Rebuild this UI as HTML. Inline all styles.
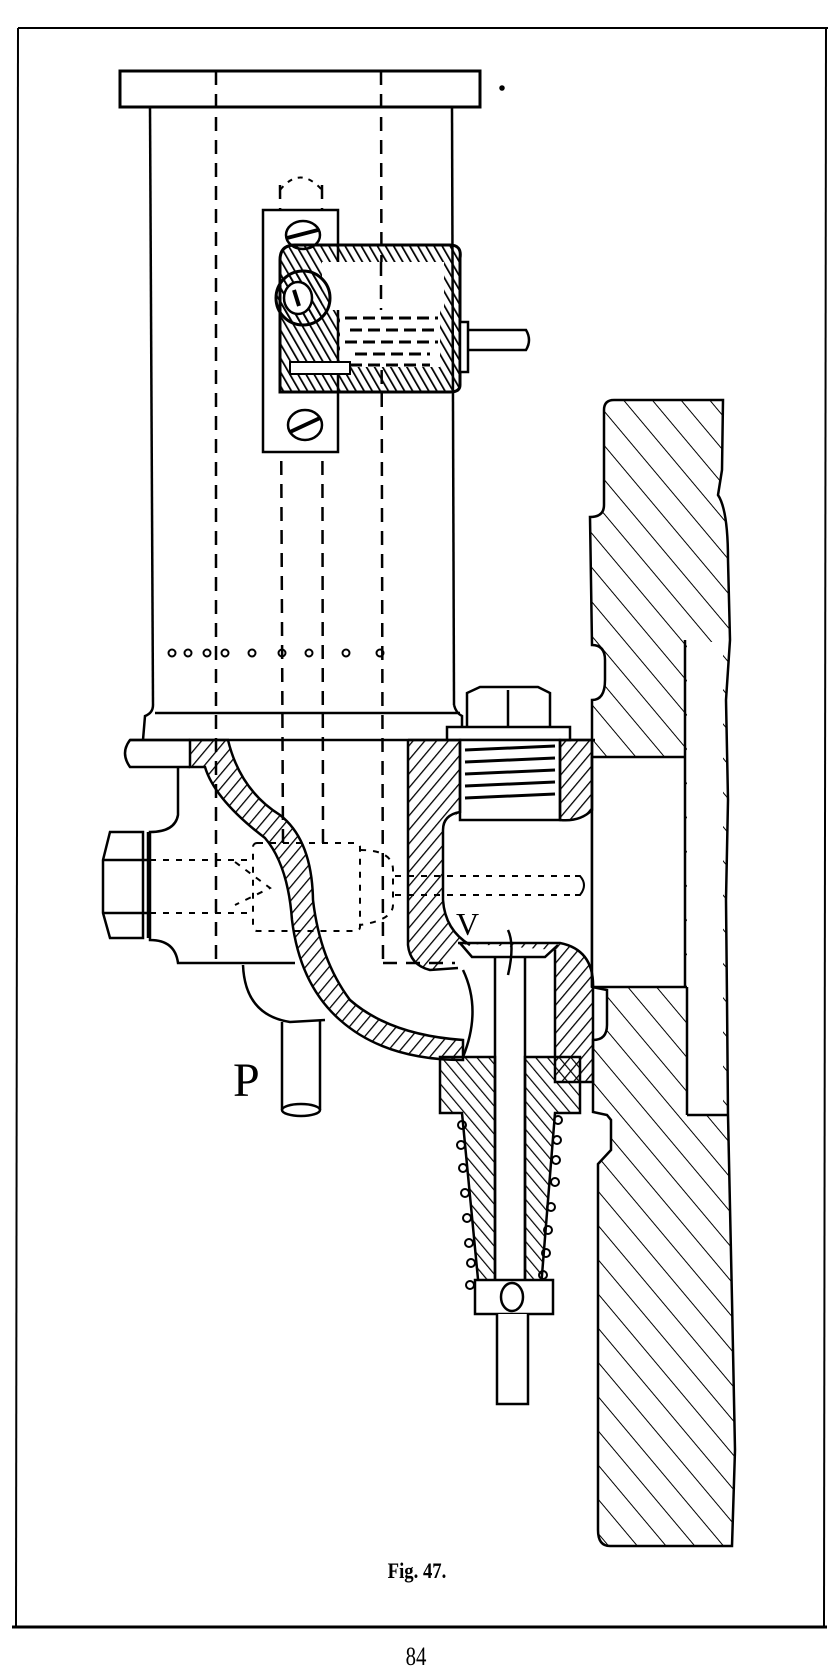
<!DOCTYPE html>
<html><head><meta charset="utf-8"><style>
html,body{margin:0;padding:0;background:#fff}
svg{display:block}
</style></head><body>
<svg width="840" height="1677" viewBox="0 0 840 1677" xmlns="http://www.w3.org/2000/svg">
<defs>
<pattern id="hw" width="22" height="22" patternUnits="userSpaceOnUse" patternTransform="rotate(-40)"><line x1="0" y1="0" x2="0" y2="22" stroke="#000" stroke-width="2"/></pattern>
<pattern id="hb" width="9" height="9" patternUnits="userSpaceOnUse" patternTransform="rotate(40)"><line x1="0" y1="0" x2="0" y2="9" stroke="#000" stroke-width="2.6"/></pattern>
<pattern id="hc" width="9" height="9" patternUnits="userSpaceOnUse" patternTransform="rotate(-40)"><line x1="0" y1="0" x2="0" y2="9" stroke="#000" stroke-width="2.4"/></pattern>
<pattern id="hs" width="7" height="7" patternUnits="userSpaceOnUse" patternTransform="rotate(-30)"><line x1="0" y1="0" x2="0" y2="7" stroke="#000" stroke-width="3.5"/></pattern>
</defs>
<g fill="none" stroke="#000" stroke-width="2.5">
<line x1="18" y1="28" x2="828" y2="28" stroke-width="2"/>
<line x1="18" y1="28" x2="16" y2="1627" stroke-width="2"/>
<line x1="826" y1="28" x2="824" y2="1627" stroke-width="2"/>
<line x1="12" y1="1627" x2="827" y2="1627" stroke-width="3"/>

<path d="M604,410 Q604,400 614,400 L723,400 L722,470 L718,495 Q728,510 728,560 L730,640 L726,700 L728,800 L726,900 L727,1000 L728,1115 L732,1300 L735,1450 L732,1546 L610,1546 Q598,1546 598,1530 L598,1164 L611,1150 L611,1120 L607,1115 L593,1112 L593,1040 Q607,1040 607,1025 L607,990 L592,987 L592,757 L592,700 Q605,700 605,680 L605,660 Q605,645 592,645 L590,517 Q604,517 604,505 Z" fill="url(#hw)"/>
<rect x="593" y="758" width="91" height="228" fill="#fff" stroke="none"/>
<rect x="687" y="642" width="36" height="472" fill="#fff" stroke="none"/>
<line x1="685" y1="640" x2="685" y2="987"/>
<line x1="592" y1="757" x2="685" y2="757"/>
<line x1="592" y1="987" x2="687" y2="987"/>
<line x1="687" y1="987" x2="687" y2="1115"/>
<line x1="687" y1="1115" x2="728" y2="1115"/>
<line x1="592" y1="757" x2="592" y2="987"/>

<rect x="120" y="71" width="360" height="36" stroke-width="3"/>
<line x1="150" y1="107" x2="153" y2="705"/>
<line x1="452" y1="107" x2="454" y2="705"/>
<path d="M153,705 Q153,713 145,716 L143,740"/>
<path d="M454,705 Q456,713 462,716 L462,740"/>
<line x1="155" y1="713" x2="460" y2="713"/>
<path d="M190,740 L130,740 Q120,753 130,767 L190,767"/>
<line x1="130" y1="740" x2="595" y2="740"/>

<g stroke-dasharray="14,9" stroke-width="2.5">
<line x1="216" y1="71" x2="216" y2="963"/>
<line x1="381" y1="71" x2="383" y2="963"/>
<line x1="280" y1="185" x2="283" y2="843"/>
<line x1="322" y1="185" x2="323" y2="843"/>
<line x1="383" y1="963" x2="455" y2="963"/>
</g>
<path d="M280,190 Q300,165 322,190" stroke-dasharray="5,6" stroke-width="2"/>
<g stroke-dasharray="6,7" stroke-width="2">
<rect x="253" y="843" width="107" height="88" rx="4"/>
<line x1="150" y1="860" x2="253" y2="860"/>
<line x1="150" y1="913" x2="253" y2="913"/>
<path d="M235,862 L270,888 L235,905"/>
<path d="M360,850 Q393,850 393,870 L393,905 Q393,920 360,925"/>
<line x1="395" y1="876" x2="575" y2="876"/>
<line x1="395" y1="895" x2="575" y2="895"/>
</g>
<path d="M575,876 L580,876 Q588,885 580,895 L575,895" stroke-width="2"/>

<g stroke-width="2">
<circle cx="172" cy="653" r="3.5"/><circle cx="188" cy="653" r="3.5"/><circle cx="207" cy="653" r="3.5"/><circle cx="225" cy="653" r="3.5"/><circle cx="252" cy="653" r="3.5"/><circle cx="282" cy="653" r="3.5"/><circle cx="309" cy="653" r="3.5"/><circle cx="346" cy="653" r="3.5"/><circle cx="380" cy="653" r="3.5"/>
</g>

<rect x="263" y="210" width="75" height="242" fill="#fff"/>
<ellipse cx="303" cy="235" rx="17" ry="14" fill="#fff"/><line x1="287" y1="238" x2="318" y2="230" stroke-width="4"/>
<ellipse cx="305" cy="425" rx="17" ry="15" fill="#fff"/><line x1="290" y1="432" x2="320" y2="418" stroke-width="4"/>
<path d="M280,260 Q280,245 295,245 L450,245 Q462,245 460,258 L460,385 Q460,392 450,392 L280,392 Z" fill="url(#hs)" stroke-width="3"/>
<rect x="322" y="262" width="122" height="48" fill="#fff" stroke="none"/>
<rect x="340" y="272" width="100" height="95" fill="#fff" stroke="none"/>
<line x1="381" y1="262" x2="381" y2="310" stroke-dasharray="14,9"/>
<circle cx="303" cy="298" r="27" fill="url(#hs)" stroke-width="3"/>
<ellipse cx="298" cy="298" rx="14" ry="16" fill="#fff"/>
<path d="M294,290 L299,306" stroke-width="4"/>
<rect x="290" y="362" width="60" height="12" fill="#fff" stroke-width="2"/>
<g stroke-width="3" stroke-dasharray="12,6">
<line x1="345" y1="318" x2="438" y2="318"/><line x1="350" y1="330" x2="435" y2="330"/><line x1="345" y1="342" x2="438" y2="342"/><line x1="355" y1="354" x2="430" y2="354"/><line x1="350" y1="365" x2="430" y2="365"/>
</g>
<rect x="460" y="322" width="8" height="50" fill="#fff"/>
<path d="M468,330 L526,330 Q532,340 526,350 L468,350"/>
<circle cx="502" cy="88" r="1.5" fill="#000"/>

<path d="M467,727 L467,693 L480,687 L538,687 L550,693 L550,727" fill="#fff"/>
<line x1="508" y1="690" x2="508" y2="727"/>
<rect x="447" y="727" width="123" height="13" fill="#fff"/>
<rect x="460" y="740" width="100" height="80" fill="#fff"/>
<g stroke-width="3"><line x1="465" y1="750" x2="555" y2="746"/><line x1="465" y1="762" x2="555" y2="758"/><line x1="465" y1="774" x2="555" y2="770"/><line x1="465" y1="786" x2="555" y2="782"/><line x1="465" y1="798" x2="555" y2="794"/></g>
<path d="M560,740 L592,740 L592,810 Q580,822 560,820 Z" fill="url(#hb)"/>

<path d="M408,740 L460,740 L460,812 L443,825 L443,905 Q445,930 468,945 L458,943 Q455,965 430,970 Q410,966 408,945 Z" fill="url(#hb)" stroke="none"/>
<path d="M408,740 L460,740 L460,812 Q443,815 443,830 L443,900 Q445,930 470,945"/>
<path d="M408,740 L408,945 Q410,965 430,970 L458,968"/>
<path d="M458,943 L560,943 Q595,950 593,990 L593,1082 L555,1082 L555,950" fill="url(#hb)"/>
<path d="M460,943 L472,957 L545,957 L558,945"/>
<line x1="495" y1="957" x2="495" y2="1300"/>
<line x1="525" y1="957" x2="525" y2="1300"/>
<path d="M463,970 Q482,1010 463,1057"/>

<path d="M190,740 L228,740 Q240,790 280,815 Q312,840 313,900 Q320,960 350,1000 Q390,1035 463,1040 L463,1060 Q385,1060 340,1020 Q300,985 292,920 Q288,865 265,838 Q215,800 205,767 L190,767 Z" fill="url(#hb)"/>

<path d="M440,1057 L495,1057 L495,1300 L480,1300 L462,1113 L440,1113 Z" fill="url(#hc)"/>
<path d="M525,1057 L580,1057 L580,1113 L555,1113 L540,1300 L525,1300 Z" fill="url(#hc)"/>
<rect x="475" y="1280" width="78" height="34" fill="#fff"/>
<ellipse cx="512" cy="1297" rx="11" ry="14"/>
<path d="M497,1314 L497,1404 L528,1404 L528,1314" fill="#fff"/>
<g stroke-width="2">
<circle cx="462" cy="1125" r="4"/><circle cx="461" cy="1145" r="4"/><circle cx="463" cy="1168" r="4"/><circle cx="465" cy="1193" r="4"/><circle cx="467" cy="1218" r="4"/><circle cx="469" cy="1243" r="4"/><circle cx="471" cy="1263" r="4"/><circle cx="470" cy="1285" r="4"/>
<circle cx="558" cy="1120" r="4"/><circle cx="557" cy="1140" r="4"/><circle cx="556" cy="1160" r="4"/><circle cx="555" cy="1182" r="4"/><circle cx="551" cy="1207" r="4"/><circle cx="548" cy="1230" r="4"/><circle cx="546" cy="1253" r="4"/><circle cx="543" cy="1275" r="4"/>
</g>
<path d="M508,930 Q515,945 508,975"/>

<path d="M178,767 L178,815 Q175,832 150,832 L150,940 Q175,940 178,963 L295,963"/>
<path d="M143,832 L110,832 L103,860 L103,913 L110,938 L143,938 Z" fill="#fff"/>
<line x1="103" y1="860" x2="150" y2="860"/><line x1="103" y1="913" x2="150" y2="913"/>
<line x1="148" y1="832" x2="148" y2="938"/>
<path d="M243,965 Q245,1015 290,1022 L325,1020"/>
<path d="M282,1022 L282,1110 M320,1020 L320,1110"/>
<ellipse cx="301" cy="1110" rx="19" ry="6"/>
</g>
<g font-family="'Liberation Serif',serif" fill="#000">
<text x="233" y="1096" font-size="48">P</text>
<text x="456" y="935" font-size="32">V</text>
<text x="417" y="1578" font-size="22" text-anchor="middle" font-weight="bold" transform="translate(417 0) scale(0.85 1) translate(-417 0)">Fig. 47.</text>
<text x="416" y="1665" font-size="26" text-anchor="middle" transform="translate(416 0) scale(0.8 1) translate(-416 0)">84</text>
</g>
</svg>
</body></html>
